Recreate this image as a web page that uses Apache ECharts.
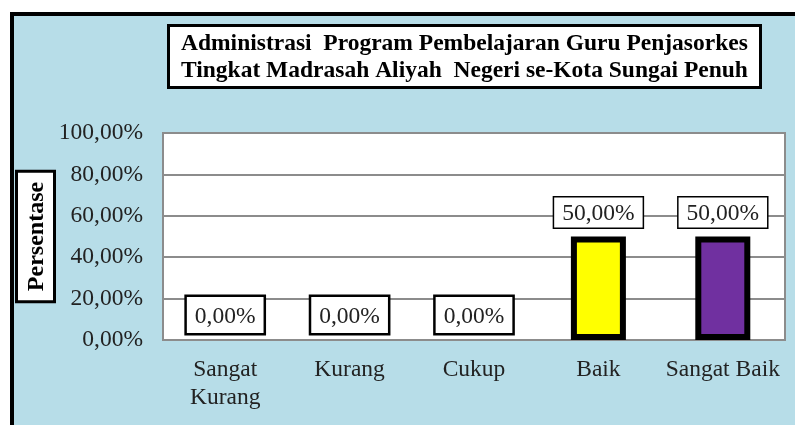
<!DOCTYPE html>
<html>
<head>
<meta charset="utf-8">
<script src="https://cdn.jsdelivr.net/npm/echarts@6/dist/echarts.min.js"></script>
<style>
  html, body { margin: 0; padding: 0; background: #fff; }
  #chart { width: 795px; height: 425px; }
</style>
</head>
<body>
<div id="chart"></div>
<script>
// data
var categories = ["Sangat\nKurang", "Kurang", "Cukup", "Baik", "Sangat Baik"];
var values = [0, 0, 0, 50, 50];
var barColors = ["#4f81bd", "#c0504d", "#9bbb59", "#ffff00", "#7030a0"];
var yTicks = [0, 20, 40, 60, 80, 100];

var serif = "'Liberation Serif', 'Times New Roman', serif";

function pct(v) {
  return v.toFixed(2).replace(".", ",") + "%";
}

var barData = values.map(function (v, i) {
  var zero = v === 0;
  return {
    value: v,
    itemStyle: {
      color: barColors[i],
      borderColor: "#000",
      borderWidth: zero ? 0 : 6
    },
    label: {
      padding: zero ? [8, 8, 4, 8] : [4, 8, 2, 8],
      borderWidth: zero ? 2.5 : 1.5,
      distance: zero ? 7 : 9
    }
  };
});

var myChart = echarts.init(document.getElementById("chart"));

var option = {
  backgroundColor: "#fff",
  animation: false,
  graphic: [
    {
      type: "rect",
      z: -10,
      shape: { x: 12, y: 14, width: 800, height: 420 },
      style: { fill: "#b7dde8", stroke: "#000", lineWidth: 4 }
    }
  ],
  title: {
    text: "Administrasi  Program Pembelajaran Guru Penjasorkes\nTingkat Madrasah Aliyah  Negeri se-Kota Sungai Penuh",
    left: 168,
    top: 25,
    backgroundColor: "#fff",
    borderColor: "#000",
    borderWidth: 3,
    padding: [5, 13, 4, 13],
    textStyle: {
      fontFamily: serif,
      fontWeight: "bold",
      fontSize: 23.5,
      lineHeight: 27,
      color: "#000",
      align: "center"
    }
  },
  grid: {
    left: 163,
    top: 133,
    right: 10,
    bottom: 85,
    outerBoundsMode: "none",
    show: true,
    backgroundColor: "#fff",
    borderColor: "#8c8c8c",
    borderWidth: 2
  },
  xAxis: {
    type: "category",
    data: categories,
    axisLine: { lineStyle: { color: "#8c8c8c", width: 2 } },
    axisTick: { show: false },
    axisLabel: {
      margin: 16,
      fontFamily: serif,
      fontSize: 23.5,
      lineHeight: 28,
      color: "#222",
      interval: 0
    }
  },
  yAxis: {
    type: "value",
    min: yTicks[0],
    max: yTicks[yTicks.length - 1],
    interval: yTicks[1] - yTicks[0],
    name: "Persentase",
    nameLocation: "middle",
    nameRotate: 90,
    nameGap: 110,
    nameMoveOverlap: false,
    nameTextStyle: {
      fontFamily: serif,
      fontWeight: "bold",
      fontSize: 24,
      color: "#000",
      backgroundColor: "#fff",
      borderColor: "#000",
      borderWidth: 3,
      padding: [7, 9, 4, 9]
    },
    axisLine: { show: false },
    axisTick: { show: false },
    axisLabel: {
      margin: 20,
      fontFamily: serif,
      fontSize: 23.5,
      color: "#222",
      formatter: function (v) { return pct(v); }
    },
    splitLine: { lineStyle: { color: "#8c8c8c", width: 2 } }
  },
  series: [
    {
      type: "bar",
      data: barData,
      barWidth: 55,
      label: {
        show: true,
        position: "top",
        fontFamily: serif,
        fontSize: 23.5,
        color: "#222",
        backgroundColor: "#fff",
        borderColor: "#000",
        formatter: function (p) { return pct(p.value); }
      }
    }
  ]
};

myChart.setOption(option);
</script>
</body>
</html>
